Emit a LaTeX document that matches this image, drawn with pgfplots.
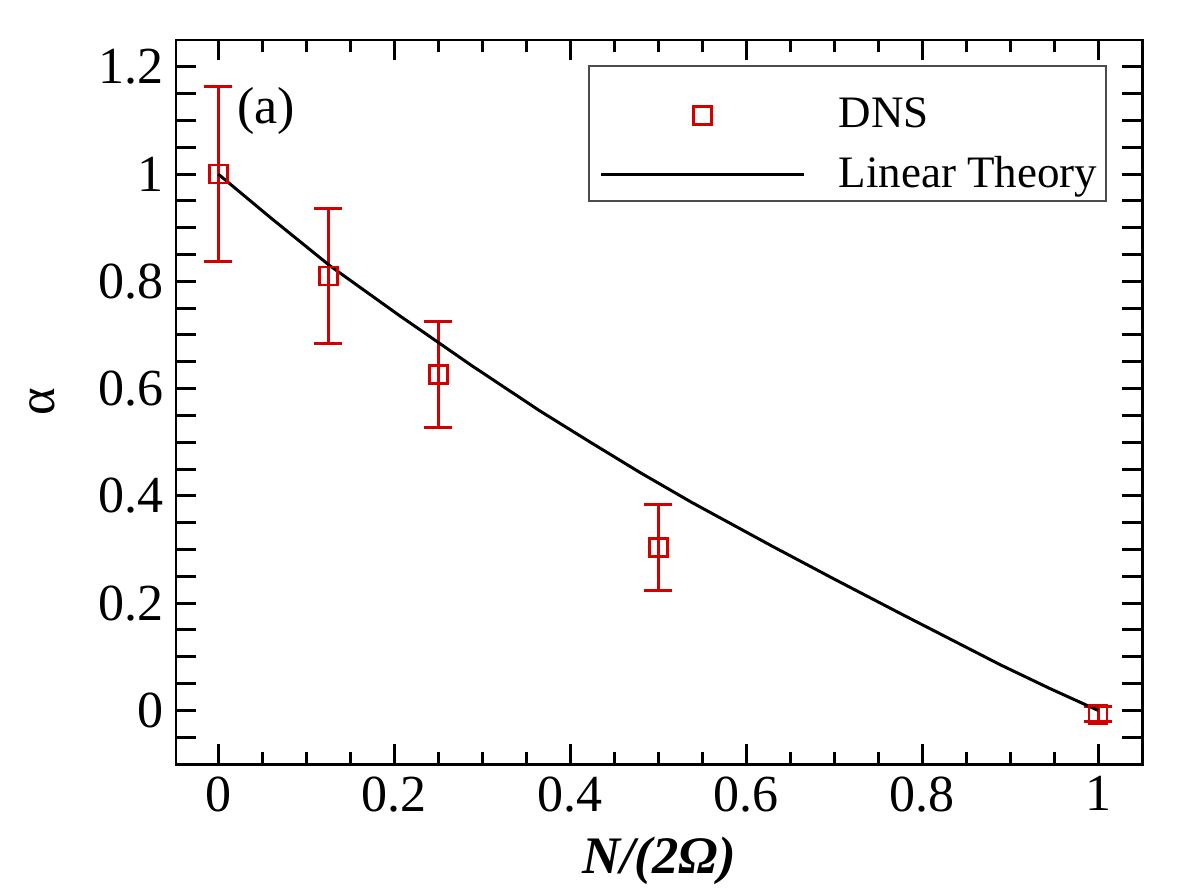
\documentclass[border=0pt]{standalone}
\usepackage{fontspec}
\setmainfont{Liberation Serif}
\usepackage{pgfplots}
\pgfplotsset{compat=1.18}
\definecolor{dnsred}{RGB}{212,0,0}
\begin{document}
\begin{tikzpicture}
\useasboundingbox (-17.6mm,-13mm) rectangle (102mm,76.4mm);
\begin{axis}[
  at={(0,0)}, anchor=south west,
  scale only axis, width=96.6mm, height=72.4mm,
  xmin=-0.048, xmax=1.05, ymin=-0.1, ymax=1.25,
  xtick={0,0.2,0.4,0.6,0.8,1},
  ytick={0,0.2,0.4,0.6,0.8,1,1.2},
  minor x tick num=3,
  extra y ticks={-0.05,0.05,0.1,0.15,0.25,0.3,0.35,0.45,0.5,0.55,0.65,0.7,0.75,0.85,0.9,0.95,1.05,1.1,1.15},
  extra y tick labels={},
  major tick length=2mm, minor tick length=1.2mm,
  tick style={line width=0.85pt, black},
  axis line style={line width=0.85pt},
  tick label style={font=\fontsize{14.8}{17}\selectfont},
  /pgf/number format/assume math mode=true,
  xlabel={\textbf{\textit{N/(2Ω)}}},
  ylabel={α},
  label style={font=\fontsize{15}{18}\selectfont},
  xlabel style={at={(axis description cs:0.5,-0.1506)}, anchor=base},
  ylabel style={at={(axis description cs:-0.1387,0.5)}, anchor=center},
  legend image code/.code={\draw[mark repeat=2,mark phase=2,#1] plot coordinates {(0mm,0mm) (10.15mm,0mm) (20.3mm,0mm)};},
  legend style={at={(rel axis cs:0.4275,0.9516)}, anchor=north west,
    draw=none, fill=none, font=\fontsize{12.8}{15}\selectfont,
    inner xsep=1mm, inner ysep=1.5mm, row sep=0.9mm, cells={anchor=west},
    /tikz/every odd column/.append style={column sep=2.6mm}},
]
\addplot[only marks, mark=square, mark size=0.9mm, dnsred, line width=0.8pt,
  mark options={line width=0.8pt, solid},
  error bars/.cd, y dir=both, y explicit,
  error bar style={line width=0.85pt, dnsred},
  error mark options={rotate=90, mark size=1.4mm, line width=0.85pt, dnsred}]
  table[x=x, y=y, y error=e] {
x      y       e
0      1.000   0.163
0.125  0.810   0.126
0.25   0.627   0.099
0.5    0.304   0.080
1.0    -0.007  0.014
};
\addlegendentry{DNS}
\addplot[black, line width=0.85pt] table {
0      1.000
0.060  0.918
0.127  0.829
0.207  0.735
0.230  0.709
0.288  0.643
0.366  0.558
0.423  0.500
0.480  0.443
0.538  0.388
0.631  0.305
0.700  0.245
0.775  0.181
0.832  0.133
0.889  0.085
0.945  0.041
1.0    0.000
};
\addlegendentry{Linear Theory}
\draw[black!70, line width=0.5pt] (rel axis cs:0.4275,0.964) rectangle (rel axis cs:0.9627,0.7776);
\node[anchor=west, inner sep=0pt, font=\fontsize{14.8}{17}\selectfont] at (rel axis cs:0.063,0.902) {(a)};
\end{axis}
\end{tikzpicture}
\end{document}
